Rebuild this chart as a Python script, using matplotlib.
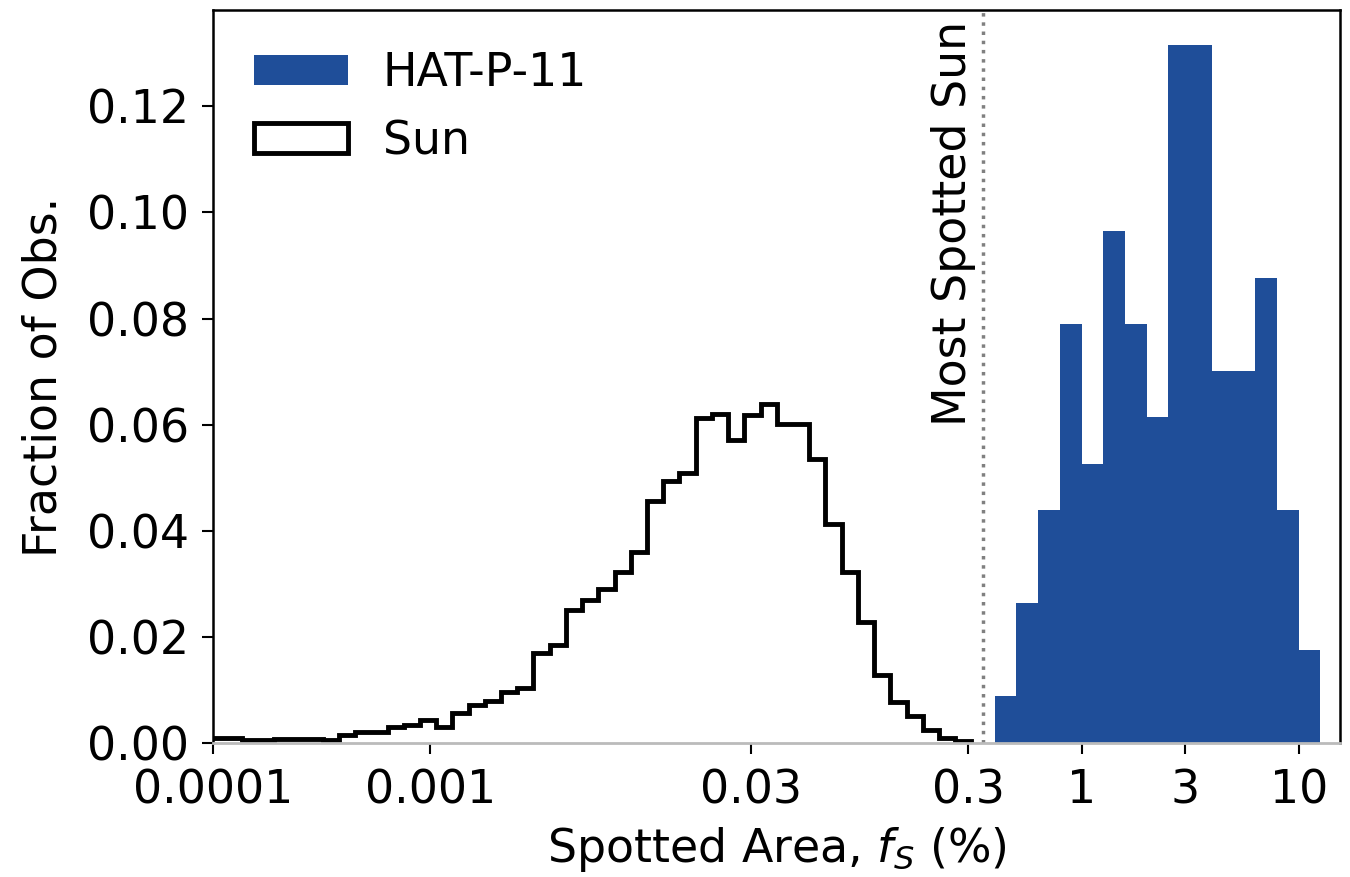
import matplotlib
matplotlib.use('Agg')
import matplotlib.pyplot as plt
import numpy as np

# Sun: fraction of observations per log-spaced bin of spotted area (%)
sun_log_range = (-4.018, -0.507)
sun_frac = [0.0010, 0.0009, 0.0006, 0.0006, 0.0008, 0.0008, 0.0007, 0.0006,
            0.0016, 0.0020, 0.0021, 0.0031, 0.0034, 0.0044, 0.0030, 0.0057,
            0.0071, 0.0079, 0.0096, 0.0103, 0.0170, 0.0184, 0.0251, 0.0270,
            0.0291, 0.0322, 0.0360, 0.0456, 0.0494, 0.0508, 0.0612, 0.0620,
            0.0571, 0.0618, 0.0639, 0.0601, 0.0601, 0.0535, 0.0412, 0.0322,
            0.0229, 0.0129, 0.0078, 0.0050, 0.0025, 0.0009, 0.0003]

# HAT-P-11: counts per bin (0.1 dex bins), 114 observations in total
hat_log_range = (-0.4, 1.1)
hat_counts = [1, 3, 5, 9, 6, 11, 9, 7, 15, 15, 8, 8, 10, 5, 2]

most_spotted_sun = 0.35

xticks = [0.0001, 0.001, 0.03, 0.3, 1, 3, 10]
xticklabels = ['0.0001', '0.001', '0.03', '0.3', '1', '3', '10']
yticks = [0.00, 0.02, 0.04, 0.06, 0.08, 0.10, 0.12]

sun_edges = np.logspace(sun_log_range[0], sun_log_range[1], len(sun_frac) + 1)
hat_edges = np.logspace(hat_log_range[0], hat_log_range[1], len(hat_counts) + 1)
hat_frac = np.array(hat_counts) / np.sum(hat_counts)

fs = 33
plt.rcParams['font.family'] = 'DejaVu Sans'
plt.rcParams['font.size'] = fs

fig = plt.figure(figsize=(13.5, 8.77), dpi=100)
ax = fig.add_axes([213 / 1350, 134 / 877, 1127 / 1350, 733 / 877])

ax.hist(hat_edges[:-1], bins=hat_edges, weights=hat_frac, histtype='stepfilled',
        color='#1f4e99', label='HAT-P-11')
ax.hist(sun_edges[:-1], bins=sun_edges, weights=sun_frac, histtype='step',
        color='black', lw=3.5, label='Sun')

ax.axvline(most_spotted_sun, color='grey', ls=':', lw=2.5)
ax.text(0.325, 0.985, 'Most Spotted Sun', rotation=90, ha='right', va='top',
        fontsize=fs, transform=ax.get_xaxis_transform())

ax.set_xscale('log')
ax.set_xlim(1e-4, 15.5)
ax.set_xticks(xticks)
ax.set_xticklabels(xticklabels)
ax.minorticks_off()
ax.set_yticks(yticks)
ax.set_yticklabels(['%.2f' % v for v in yticks])

ax.set_xlabel('Spotted Area, $f_S$ (%)', fontsize=fs, labelpad=9)
ax.set_ylabel('Fraction of Obs.', fontsize=fs, labelpad=15)
ax.tick_params(labelsize=fs, length=8, width=1.5)
ax.tick_params(axis='x', pad=10)
ax.tick_params(axis='y', pad=9)

for s in ['left', 'top', 'right']:
    ax.spines[s].set_linewidth(1.8)
ax.spines['bottom'].set_color('#bbbbbb')
ax.spines['bottom'].set_linewidth(2)

ax.legend(loc='upper left', frameon=False, fontsize=fs, handlelength=2.05,
          handleheight=0.65, handletextpad=0.75)

fig.savefig('out.png', dpi=100)
